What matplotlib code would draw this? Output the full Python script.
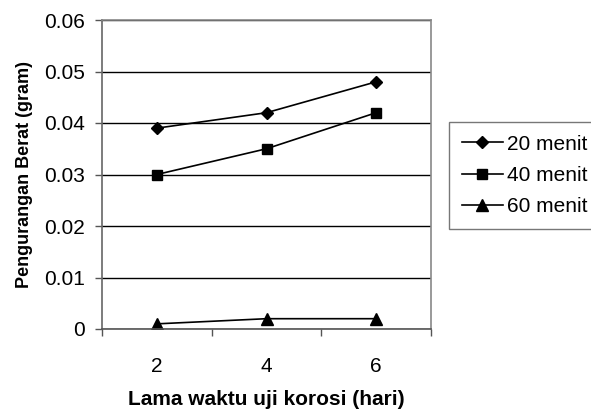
import matplotlib
matplotlib.use("Agg")
import matplotlib.pyplot as plt
from matplotlib.ticker import FixedLocator, NullFormatter

plt.rcParams['font.family'] = ['Liberation Sans', 'DejaVu Sans']

days = ["2", "4", "6"]
s20 = [0.039, 0.042, 0.048]
s40 = [0.030, 0.035, 0.042]
s60 = [0.001, 0.002, 0.002]
series_names = ["20 menit", "40 menit", "60 menit"]
y_ticks = [0, 0.01, 0.02, 0.03, 0.04, 0.05, 0.06]
y_labels = ["0", "0.01", "0.02", "0.03", "0.04", "0.05", "0.06"]

FS = 15

fig = plt.figure(figsize=(5.91, 4.12), dpi=100)
W, H = 591, 412
ax = fig.add_axes([102 / W, 1 - 329 / H, (431 - 102) / W, (329 - 20) / H])

x = list(range(len(days)))
ax.plot(x, s20, color='black', lw=1.2, marker='D', ms=6.5, label=series_names[0])
ax.plot(x, s40, color='black', lw=1.2, marker='s', ms=7, label=series_names[1])
ax.plot(x, s60, color='black', lw=1.2, marker='^', ms=8, label=series_names[2])

ax.set_xlim(-0.5, len(days) - 0.5)
ax.set_ylim(0, 0.06)
ax.set_yticks(y_ticks)
ax.set_yticklabels(y_labels, fontsize=FS)
ax.set_xticks(x)
ax.set_xticklabels(days, fontsize=FS)
ax.tick_params(axis='x', which='major', length=0, pad=20)
ax.xaxis.set_minor_locator(FixedLocator([-0.5, 0.5, 1.5, 2.5]))
ax.xaxis.set_minor_formatter(NullFormatter())
ax.tick_params(axis='x', which='minor', length=5, width=1, color='#555555', direction='out')
ax.tick_params(axis='y', length=5, width=1, color='#555555', direction='out', pad=7)

ax.yaxis.grid(True, color='black', lw=1)
ax.set_axisbelow(True)
for side in ['top', 'right']:
    ax.spines[side].set_color('#888888')
    ax.spines[side].set_linewidth(1.2)
ax.spines['left'].set_color('#666666')
ax.spines['left'].set_linewidth(1.2)
ax.spines['bottom'].set_color('#555555')
ax.spines['bottom'].set_linewidth(1.2)

ax.set_xlabel("Lama waktu uji korosi (hari)", fontsize=FS, fontweight='bold', labelpad=10)
ax.set_ylabel("Pengurangan Berat (gram)", fontsize=13, fontweight='bold', labelpad=8)

leg = fig.legend(loc='upper left', bbox_to_anchor=(449 / W, 1 - 122 / H, 170 / W, 0),
                 mode='expand', fontsize=FS,
                 frameon=True, fancybox=False, edgecolor='#555555', handlelength=2.0,
                 handletextpad=0.2, borderpad=0.6, labelspacing=0.6, borderaxespad=0)
leg.get_frame().set_linewidth(1)

fig.savefig("out.png", dpi=100)
